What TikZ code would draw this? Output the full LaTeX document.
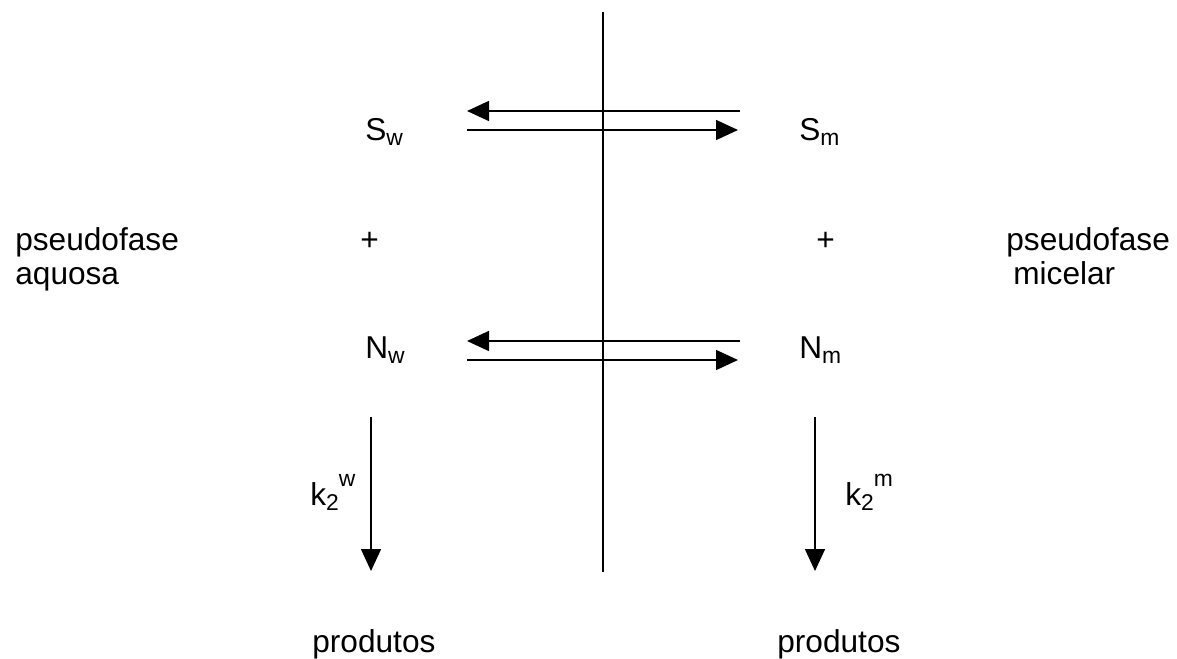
\documentclass[tikz,border=0pt]{standalone}
\usepackage{fontspec}
\setmainfont{Liberation Sans}
\usetikzlibrary{arrows.meta}
\newcommand{\lowidx}[1]{\raisebox{-0.35ex}{\fontsize{13}{13}\selectfont #1}}
\newcommand{\highidx}[1]{\raisebox{1.1ex}{\fontsize{13}{13}\selectfont #1}}
\tikzset{
  lbl/.style={anchor=base west, inner sep=0pt, font=\fontsize{18}{18}\selectfont},
  arr/.style={line width=0.9pt, -{Triangle[length=0.44cm, width=0.4cm]}},
  plain/.style={line width=0.9pt}
}
\begin{document}
\begin{tikzpicture}[x=0.02cm, y=-0.02cm]
\useasboundingbox (0,0) rectangle (1177,659);
% vertical interface
\coordinate (vtop) at (603,12);
\coordinate (vbot) at (603,572);
\draw[plain] (vtop) -- (vbot);
% species
\node[lbl] (Sw) at (365,140) {S\lowidx{w}};
\node[lbl] (Sm) at (799,140) {S\lowidx{m}};
\node[lbl] (Nw) at (365,358) {N\lowidx{w}};
\node[lbl] (Nm) at (799,358) {N\lowidx{m}};
\node[lbl] (p1) at (360,250) {+};
\node[lbl] (p2) at (816,250) {+};
% phase labels
\node[lbl] (aq1) at (15,250) {pseudofase};
\node[lbl] (aq2) at (15,284) {aquosa};
\node[lbl] (mi1) at (1006,250) {pseudofase};
\node[lbl] (mi2) at (1013,284) {micelar};
% rate constants
\node[lbl] (kw) at (310,505) {k\lowidx{2}\highidx{w}};
\node[lbl] (km) at (845,505) {k\lowidx{2}\highidx{m}};
% products
\node[lbl] (prw) at (312,652) {produtos};
\node[lbl] (prm) at (777,652) {produtos};
% arrow endpoints
\coordinate (s1a) at (740,111); \coordinate (s1b) at (467,111);
\coordinate (s2a) at (467,130); \coordinate (s2b) at (738,130);
\coordinate (n1a) at (740,341); \coordinate (n1b) at (467,341);
\coordinate (n2a) at (467,360); \coordinate (n2b) at (738,360);
\coordinate (dwa) at (371,417); \coordinate (dwb) at (371,571);
\coordinate (dma) at (815,417); \coordinate (dmb) at (815,571);
\draw[arr] (s1a) -- (s1b);
\draw[arr] (s2a) -- (s2b);
\draw[arr] (n1a) -- (n1b);
\draw[arr] (n2a) -- (n2b);
\draw[arr] (dwa) -- (dwb);
\draw[arr] (dma) -- (dmb);
\end{tikzpicture}
\end{document}
